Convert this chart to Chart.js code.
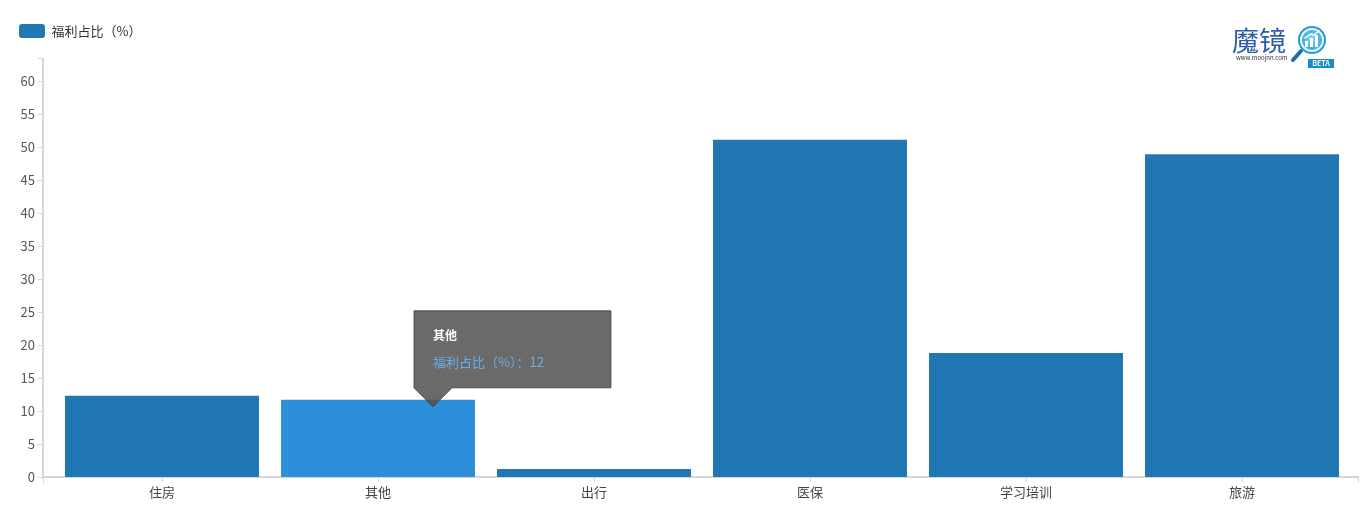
<!DOCTYPE html>
<html>
<head>
<meta charset="utf-8">
<script src="https://cdn.jsdelivr.net/npm/chart.js@4.4.1/dist/chart.umd.min.js"></script>
<style>
  html, body { margin: 0; padding: 0; background: #fff; }
  #wrap { width: 1368px; height: 514px; }
</style>
</head>
<body>
<div id="wrap"><canvas id="benefitChart"></canvas></div>
<script>
// data
const categories = ['住房', '其他', '出行', '医保', '学习培训', '旅游'];
const shareValues = [12.3, 11.7, 1.2, 51.1, 18.8, 48.9];
const seriesName = '福利占比（%）';
const yTickStep = 5;
const highlightIndex = 1;

const FONT = '"Noto Sans CJK SC", "Noto Sans", sans-serif';
const BAR_COLOR = '#2077b4';
const HOVER_COLOR = '#2b90d9';
const AXIS_COLOR = '#d6d6d6';

// put the tooltip just right of the bar centre, caret pointing into the bar
Chart.Tooltip.positioners.besideBar = function(elements) {
    if (!elements.length) return false;
    const el = elements[0].element;
    return { x: el.x + 55, y: el.y + 7 };
};

// axis lines and tick marks in the echarts style
const axisPlugin = {
    id: 'axisLines',
    beforeDatasetsDraw(chart) {
        const { ctx, chartArea, scales } = chart;
        const axisX = chartArea.left - 11;
        const axisRight = chartArea.right + 9;
        ctx.save();
        ctx.strokeStyle = AXIS_COLOR;
        ctx.lineWidth = 2;
        ctx.beginPath();
        ctx.moveTo(axisX, chartArea.top);
        ctx.lineTo(axisX, chartArea.bottom);
        ctx.lineTo(axisRight, chartArea.bottom);
        ctx.stroke();

        ctx.lineWidth = 1;
        ctx.beginPath();
        scales.y.ticks.forEach(t => {
            const py = Math.round(scales.y.getPixelForValue(t.value)) + 0.5;
            ctx.moveTo(axisX - 5, py);
            ctx.lineTo(axisX, py);
        });
        ctx.moveTo(axisX - 5, chartArea.top + 0.5);
        ctx.lineTo(axisX, chartArea.top + 0.5);
        categories.forEach((c, i) => {
            const px = Math.round(scales.x.getPixelForValue(i)) + 0.5;
            ctx.moveTo(px, chartArea.bottom);
            ctx.lineTo(px, chartArea.bottom + 5);
        });
        ctx.moveTo(axisX + 0.5, chartArea.bottom);
        ctx.lineTo(axisX + 0.5, chartArea.bottom + 6);
        ctx.moveTo(axisRight - 0.5, chartArea.bottom);
        ctx.lineTo(axisRight - 0.5, chartArea.bottom + 6);
        ctx.stroke();
        ctx.restore();
    }
};

// the 魔镜 watermark in the top right corner
const logoPlugin = {
    id: 'moojnnLogo',
    afterDraw(chart) {
        const ctx = chart.ctx;
        ctx.save();
        ctx.fillStyle = '#2d5da8';
        ctx.font = '27px ' + FONT;
        ctx.textBaseline = 'middle';
        ctx.textAlign = 'left';
        ctx.fillText('魔镜', 1232, 41);
        ctx.fillStyle = '#333';
        ctx.font = '6px ' + FONT;
        ctx.fillText('www.moojnn.com', 1236, 58);

        // magnifier handle
        ctx.strokeStyle = '#1f6fae';
        ctx.lineWidth = 4;
        ctx.lineCap = 'round';
        ctx.beginPath();
        ctx.moveTo(1301, 51);
        ctx.lineTo(1293, 60);
        ctx.stroke();

        // lens
        const g = ctx.createRadialGradient(1312, 38, 2, 1312, 40, 15);
        g.addColorStop(0, '#7fd0f0');
        g.addColorStop(1, '#1a8fcf');
        ctx.fillStyle = g;
        ctx.beginPath();
        ctx.arc(1312, 40, 14, 0, Math.PI * 2);
        ctx.fill();
        ctx.strokeStyle = '#dff3fb';
        ctx.lineWidth = 2;
        ctx.beginPath();
        ctx.arc(1312, 40, 11, 0, Math.PI * 2);
        ctx.stroke();
        ctx.fillStyle = '#ffffff';
        ctx.fillRect(1305, 41, 3, 6);
        ctx.fillRect(1310, 38, 3, 9);
        ctx.fillRect(1315, 35, 3, 12);
        ctx.strokeStyle = '#ffffff';
        ctx.lineWidth = 1.5;
        ctx.beginPath();
        ctx.moveTo(1305, 38);
        ctx.lineTo(1311, 34);
        ctx.lineTo(1314, 35);
        ctx.lineTo(1319, 31);
        ctx.stroke();

        // BETA badge
        ctx.fillStyle = '#1b8acb';
        ctx.fillRect(1308, 59, 26, 9);
        ctx.fillStyle = '#ffffff';
        ctx.font = 'bold 7px ' + FONT;
        ctx.textAlign = 'center';
        ctx.fillText('BETA', 1321, 63.5);
        ctx.restore();
    }
};

// force the legend block height so the plot area starts where the original does
const legendHeightPlugin = {
    id: 'legendHeight',
    beforeInit(chart) {
        const legend = chart.legend;
        if (!legend) return;
        const origFit = legend.fit;
        legend.fit = function() {
            origFit.bind(legend)();
            this.height = 53;
        };
    }
};

const ctx = document.getElementById('benefitChart').getContext('2d');
const chart = new Chart(ctx, {
    type: 'bar',
    data: {
        labels: categories,
        datasets: [{
            label: seriesName,
            data: shareValues,
            backgroundColor: BAR_COLOR,
            hoverBackgroundColor: HOVER_COLOR,
            borderWidth: 0,
            barPercentage: 0.898,
            categoryPercentage: 1
        }]
    },
    options: {
        responsive: true,
        maintainAspectRatio: false,
        animation: false,
        events: [],
        layout: {
            padding: { top: 5, right: 18, left: 0, bottom: 0 }
        },
        plugins: {
            legend: {
                display: true,
                position: 'top',
                align: 'start',
                labels: {
                    boxWidth: 26,
                    boxHeight: 14,
                    padding: 19,
                    useBorderRadius: true,
                    borderRadius: 3,
                    color: '#333',
                    font: { family: FONT, size: 13 }
                }
            },
            tooltip: {
                enabled: true,
                position: 'besideBar',
                xAlign: 'left',
                yAlign: 'bottom',
                caretSize: 19,
                caretPadding: 0,
                cornerRadius: 0,
                displayColors: false,
                backgroundColor: 'rgba(80, 80, 80, 0.85)',
                borderColor: 'rgba(60, 60, 60, 0.8)',
                borderWidth: 1,
                padding: { top: 17, bottom: 18, left: 19, right: 67 },
                titleColor: '#ffffff',
                titleFont: { family: FONT, size: 12, weight: 'bold' },
                titleMarginBottom: 12,
                bodyFont: { family: FONT, size: 13 },
                callbacks: {
                    label: item => item.dataset.label + '：' + Math.round(item.parsed.y),
                    labelTextColor: () => '#6aaee6'
                }
            }
        },
        scales: {
            x: {
                grid: { display: false, drawTicks: false },
                border: { display: false },
                ticks: {
                    color: '#444',
                    padding: 7,
                    font: { family: FONT, size: 13 }
                },
                afterFit: scale => { scale.height = 37; }
            },
            y: {
                min: 0,
                max: 63.5,
                grid: { display: false, drawTicks: false },
                border: { display: false },
                ticks: {
                    stepSize: yTickStep,
                    includeBounds: false,
                    color: '#555',
                    padding: 19,
                    font: { family: FONT, size: 13 },
                    callback: v => (v % yTickStep === 0 ? v : null)
                },
                afterFit: scale => { scale.width = 54; }
            }
        }
    },
    plugins: [legendHeightPlugin, axisPlugin, logoPlugin]
});

// show the hovered state on 其他 like the screenshot
const active = [{ datasetIndex: 0, index: highlightIndex }];
chart.setActiveElements(active);
chart.tooltip.setActiveElements(active, { x: 0, y: 0 });
chart.update();
</script>
</body>
</html>
